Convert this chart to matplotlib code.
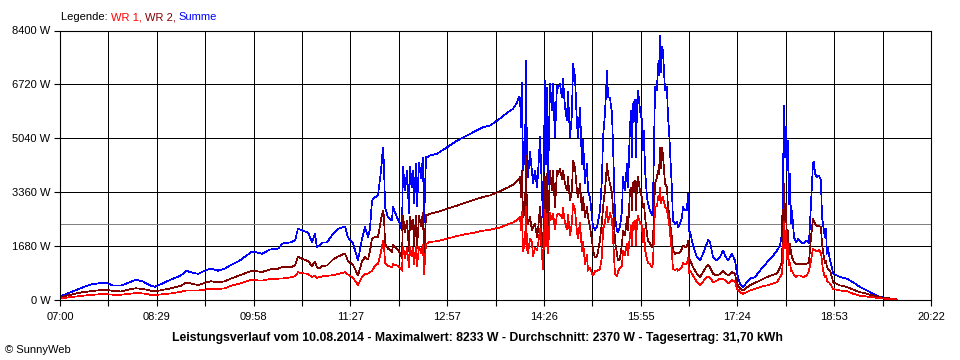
import matplotlib
matplotlib.use("Agg")
import matplotlib.pyplot as plt

plt.rcParams['font.family'] = ['Liberation Sans', 'DejaVu Sans']

# Minuten ab 07:00, Leistung in W
t_min = [0, 6.4, 13.8, 21.2, 28.5, 35.0, 41.4, 48.8, 56.2, 64.5, 70.0, 76.4, 82.9, 87.5, 93.0,
         102.2, 111.4, 116.0, 120.6, 127.1, 133.5, 139.0, 145.5, 151.9, 156.5, 165.7, 176.8,
         181.4, 186.0, 193.4, 200.7, 205.3, 211.8, 216.4, 219.1, 223.7, 228.4, 232.0, 234.8,
         236.6, 239.4, 241.2, 245.8, 251.4, 256.0, 262.4, 265.2, 269.8, 274.4, 278.1, 280.8,
         283.6, 285.4, 287.3, 290.0, 292.8, 295.6, 297.4, 298.3, 299.3, 302.0, 305.7, 306.6,
         310.3, 313.1, 314.9, 315.8, 317.7, 319.5, 321.4, 322.3, 324.1, 325.0, 326.0, 327.8,
         328.7, 330.6, 332.4, 334.2, 335.2, 337.0, 337.9, 340.7, 347.1, 356.3, 365.5, 374.8,
         380.3, 389.5, 395.9, 405.1, 412.5, 417.1, 420.8, 422.6,
         423.6, 424.5, 425.4, 426.3, 428.2, 429.1, 430.0, 430.9, 432.8, 434.6, 435.5, 437.4,
         439.2, 440.1, 442.0, 443.8, 444.7, 446.6, 447.5, 448.4, 449.3, 451.2, 453.0, 453.9,
         455.8, 457.6, 458.5, 460.4, 462.2, 463.1, 465.0, 466.8, 467.7, 469.6, 471.4, 472.4,
         474.2, 476.0, 477.0, 478.8, 480.6, 481.6, 483.4, 485.2, 486.2, 488.0, 489.9, 490.8,
         492.6, 494.5, 497.2, 499.1, 500.0, 501.8, 503.7, 504.6, 506.4, 508.3, 510.1, 511.0,
         512.9, 513.8, 515.6, 517.5, 518.4, 520.2, 522.1, 523.0, 524.8, 525.8, 526.7, 527.6,
         529.4, 530.4, 531.3, 532.2, 534.1, 535.9, 536.8, 537.7, 538.7, 540.5, 541.4, 543.3,
         545.1, 546.0, 547.9, 549.7, 550.6, 551.5, 552.5, 553.4, 554.3, 555.2, 557.1, 558.9,
         559.8, 560.8, 562.6, 563.5, 564.4, 566.3, 568.1, 569.0, 570.9, 572.7, 573.6, 575.5,
         577.3, 578.2, 579.2, 580.1, 582.9, 586.5, 589.3, 592.1, 595.7, 596.7, 598.5, 601.3,
         605.0, 607.7, 610.5, 612.3, 615.1, 618.8, 621.5, 623.4, 626.1, 628.9, 632.6, 635.3,
         639.9, 644.5, 651.0, 655.6, 660.2, 663.0, 664.8, 665.7, 666.6, 667.6, 668.5, 669.4,
         670.3, 671.2, 672.2, 673.1, 674.0, 675.9, 677.7, 679.5, 681.4, 684.1, 687.8, 689.6,
         691.5, 693.3, 694.3, 695.2, 697.0, 698.9, 700.7, 701.6, 702.5, 704.4, 705.3, 706.2,
         707.2, 709.0, 710.8, 711.8, 718.2, 724.7, 730.2, 736.6, 743.1, 748.6, 755.0, 761.5,
         767.0, 770.7]

summe = [100, 180, 280, 380, 470, 500, 530, 440, 435, 540, 625, 560, 440, 400, 480,
         625, 750, 900, 850, 800, 900, 970, 900, 970, 1060, 1220, 1500,
         1470, 1430, 1560, 1590, 1750, 1780, 1840, 2210, 2150, 2090, 1800, 2050,
         1630, 1700, 1780, 1780, 2050, 2210, 2280, 1940, 1750, 1220, 1900, 2260,
         1950, 2200, 3090, 3190, 3250, 4030, 4750, 4200, 2880, 2570, 2470, 2880,
         2570, 2370, 2150, 4130, 3400, 4030, 2700, 4130, 3500, 4030, 3000, 4240,
         2900, 4270, 3800, 4440, 2400, 4440, 4440, 4500, 4550, 4750, 4960, 5120,
         5220, 5380, 5430, 5650, 5850, 5950, 6150, 6320,
         6300, 5380, 6780, 4030, 4550, 7460, 4240, 3820, 4600, 4000, 3620, 4030,
         3500, 3900, 5070, 3400, 2570, 6840, 4240, 6600, 3600, 6720, 5900, 6720,
         5070, 6680, 6600, 6720, 6320, 6900, 6000, 5590, 6500, 5070, 5800, 7360,
         6940, 5490, 5070, 6000, 4240, 5000, 3620, 4240, 3400, 3190, 2570, 2260,
         2180, 2260, 2780, 3820, 5070, 5800, 7150, 6320, 6300, 5800, 3800, 2570,
         2150, 2100, 2260, 2780, 3820, 3400, 4240, 3500, 5380, 5900, 4450, 6110,
         6220, 4450, 6110, 6530, 5900, 5590, 4650, 5280, 4030, 3190, 2990, 2780,
         2620, 2990, 6630, 6530, 7360, 7000, 8230, 7100, 7880, 7750, 6530, 6630,
         5700, 5280, 4030, 3400, 2470, 2360, 2420, 2260, 2360, 2570, 2880, 2780,
         2780, 3300, 2150, 2100, 1700, 1320, 1220, 1430, 1750, 1870, 1800, 1320,
         1220, 1320, 1530, 1380, 1220, 1430, 1220, 810, 500, 390, 540, 650,
         700, 900, 1160, 1320, 1530, 1680, 2050, 3620, 6050, 4440, 5380, 4030,
         4960, 2990, 3920, 2370, 2780, 1940, 1780, 1880, 1840, 1750, 1840, 1750,
         2990, 4240, 4300, 3920, 3820, 3870, 3720, 2570, 2370, 1940, 2200, 1430,
         1600, 1220, 1010, 810, 700, 650, 540, 390, 280, 180, 80, 50,
         20, 0]

wr2 = [70, 120, 180, 230, 260, 290, 310, 270, 250, 320, 350, 330, 280, 260, 290,
       350, 430, 530, 500, 450, 520, 570, 540, 570, 640, 760, 900,
       880, 860, 940, 960, 1030, 1000, 1060, 1340, 1260, 1200, 1050, 1180,
       1000, 980, 1050, 1060, 1250, 1340, 1440, 1200, 1080, 750, 1200, 1320,
       1250, 1500, 1900, 1950, 1950, 2500, 2780, 2600, 1750, 1590, 1490, 1700,
       1590, 1430, 1300, 2600, 2100, 2470, 1500, 2570, 2200, 2500, 1700, 2600,
       1600, 2600, 2300, 2700, 1300, 2650, 2620, 2680, 2730, 2830, 2930, 3040,
       3100, 3200, 3250, 3380, 3500, 3580, 3700, 3770,
       3820, 3190, 4030, 2570, 2780, 4500, 2650, 2360, 2570, 2150, 2260, 2360,
       1940, 2150, 2880, 1940, 1630, 3820, 2570, 3920, 2150, 4030, 3400, 4030,
       2880, 4030, 3920, 4080, 3770, 4030, 3620, 3400, 3820, 3090, 3400, 4340,
       4130, 3400, 3190, 3620, 2780, 3190, 2570, 2880, 2570, 2260, 1840, 1530,
       1320, 1350, 1840, 2470, 2880, 3400, 4240, 3920, 3620, 3300, 2400, 1840,
       1430, 1220, 1270, 1750, 2150, 2000, 2570, 2150, 3400, 3500, 2780, 3620,
       3720, 2780, 3620, 3820, 3400, 3190, 2880, 2990, 2570, 2050, 1840, 1750,
       1630, 1840, 3620, 3820, 4030, 3900, 4750, 4100, 4750, 4500, 3620, 3500,
       2880, 2700, 2150, 1940, 1530, 1430, 1470, 1430, 1470, 1580, 1680, 1650,
       1650, 1840, 1320, 1220, 1010, 800, 700, 850, 1060, 1080, 1010, 800,
       750, 800, 900, 840, 750, 850, 800, 500, 340, 280, 380, 440,
       520, 590, 700, 760, 810, 1010, 1200, 2300, 3620, 2400, 2990, 1750,
       2150, 1430, 1750, 1430, 1320, 1160, 1100, 1100, 1120, 1100, 1120, 1160,
       1940, 2520, 2450, 2360, 2300, 2300, 2260, 1750, 1530, 1120, 1200, 1010,
       950, 900, 700, 540, 440, 390, 310, 230, 180, 120, 70, 40,
       20, 0]

wr1 = [40, 60, 90, 120, 140, 160, 170, 150, 150, 180, 200, 190, 150, 140, 160,
       190, 240, 280, 280, 280, 310, 340, 330, 350, 420, 500, 620,
       600, 590, 640, 650, 660, 690, 720, 850, 820, 800, 700, 750,
       680, 700, 720, 740, 760, 800, 850, 780, 680, 450, 700, 800,
       810, 850, 900, 1050, 1120, 1500, 1840, 1700, 1130, 1050, 1010, 1100,
       1060, 1000, 900, 1630, 1300, 1600, 1000, 1630, 1350, 1600, 1100, 1650,
       1050, 1650, 1450, 1700, 800, 1750, 1750, 1800, 1820, 1900, 1980, 2050,
       2080, 2150, 2180, 2250, 2350, 2400, 2480, 2550,
       2570, 2150, 2750, 1500, 1770, 2900, 1600, 1450, 1900, 1800, 1350, 1600,
       1550, 1700, 2200, 1450, 950, 2800, 1650, 2680, 1450, 2700, 2500, 2680,
       2200, 2650, 2680, 2650, 2550, 2850, 2400, 2200, 2650, 2000, 2400, 3000,
       2800, 2100, 1900, 2400, 1500, 1800, 1100, 1400, 900, 1000, 800, 750,
       880, 900, 950, 1350, 2200, 2400, 2900, 2400, 2700, 2500, 1400, 800,
       720, 870, 990, 1050, 1530, 1400, 1750, 1400, 2000, 2300, 1700, 2400,
       2450, 1700, 2450, 2600, 2400, 2300, 1800, 2200, 1550, 1250, 1150, 1100,
       1000, 1150, 2900, 2900, 3200, 3100, 3480, 3000, 3130, 3200, 2900, 2800,
       2600, 2400, 1750, 1450, 950, 930, 950, 900, 940, 1000, 1150, 1100,
       1130, 1300, 830, 910, 750, 540, 440, 560, 700, 720, 690, 540,
       590, 650, 650, 600, 500, 600, 560, 340, 230, 180, 230, 280,
       330, 390, 440, 490, 540, 700, 800, 1300, 2430, 1600, 2150, 1250,
       1750, 1060, 1160, 900, 900, 750, 700, 750, 750, 700, 750, 900,
       1220, 1590, 1550, 1550, 1500, 1550, 1450, 1220, 900, 700, 750, 590,
       560, 500, 400, 330, 280, 260, 180, 120, 90, 70, 40, 20,
       10, 0]

mittelwert = 2370
x_labels = ['07:00', '', '08:29', '', '09:58', '', '11:27', '', '12:57', '', '14:26', '',
            '15:55', '', '17:24', '', '18:53', '', '20:22']
y_werte = [0, 1680, 3360, 5040, 6720, 8400]

lw = 0.7  # etwa ein Pixel bei 100 dpi

fig = plt.figure(figsize=(9.6, 3.6), dpi=100)
fig.patch.set_facecolor('white')
ax = fig.add_axes([60/960, 1 - 299.5/360, 871/960, 269/360])

ax.plot(t_min, summe, color='#0000ff', lw=0.5, antialiased=False)
ax.plot(t_min, wr2, color='#800000', lw=0.5, antialiased=False)
ax.plot(t_min, wr1, color='#ff0000', lw=0.5, antialiased=False)
ax.axhline(mittelwert, color='#808080', lw=lw, zorder=1, antialiased=False)

ende = 802
ax.set_xlim(0, ende)
ax.set_ylim(0, 8400)
ax.set_xticks([i * ende / 18 for i in range(19)])
ax.set_xticklabels(x_labels)
ax.set_yticks(y_werte)
ax.set_yticklabels(['%d W' % v for v in y_werte])
ax.tick_params(direction='out', length=4, width=0.8, color='black', labelsize=8, pad=3)
ax.tick_params(axis='x', pad=5)
ax.grid(True, color='black', lw=lw, zorder=0, antialiased=False)
ax.set_axisbelow(True)
for s in ax.spines.values():
    s.set_color('black')
    s.set_linewidth(0.8)

# Legende als farbiger Text oben links
t1 = fig.text(61/960, 1 - 22/360, 'Legende: ', fontsize=8, color='black', ha='left', va='bottom')
t2 = fig.text(0, 0, 'WR 1, ', fontsize=8, color='#ff0000', ha='left', va='bottom')
t3 = fig.text(0, 0, 'WR 2, ', fontsize=8, color='#800000', ha='left', va='bottom')
t4 = fig.text(0, 0, 'Summe', fontsize=8, color='#0000ff', ha='left', va='bottom')
fig.canvas.draw()
r = fig.canvas.get_renderer()
x = t1.get_window_extent(r).x1
for tt in [t2, t3, t4]:
    tt.set_position((x / 960, 1 - 22/360))
    x = tt.get_window_extent(r).x1

fig.text(0.497, 1 - 338/360,
         'Leistungsverlauf vom 10.08.2014 - Maximalwert: 8233 W - Durchschnitt: 2370 W - Tagesertrag: 31,70 kWh',
         fontsize=8.8, fontweight='bold', ha='center', va='center',
         family=['Liberation Sans Narrow', 'Liberation Sans', 'DejaVu Sans'])
fig.text(5/960, 1 - 350/360, '© SunnyWeb', fontsize=8, ha='left', va='center')

fig.savefig('out.png', dpi=100)
